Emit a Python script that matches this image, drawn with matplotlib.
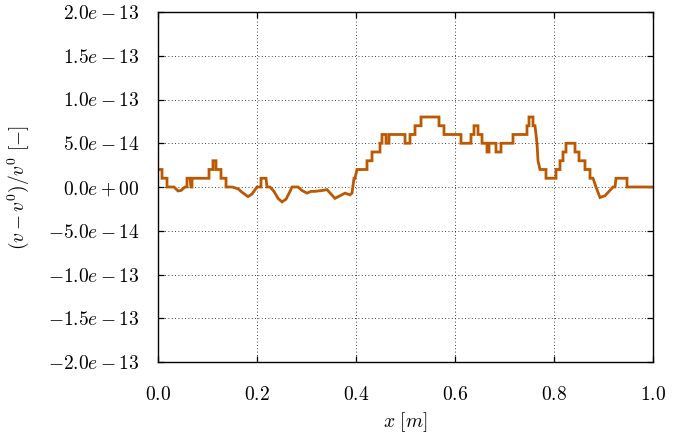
import matplotlib
matplotlib.use("Agg")
import matplotlib.pyplot as plt
import numpy as np

plt.rcParams['mathtext.fontset'] = 'cm'
plt.rcParams['font.family'] = ['cmr10', 'DejaVu Serif']
plt.rcParams['axes.unicode_minus'] = False

# curve vertices: x position (pixel-read) and deviation in units of 1e-14
x_px = [158, 162, 162, 167, 167, 174, 178, 181, 185, 187, 187, 190, 191, 192, 192,
        209, 209, 213, 213, 216, 216, 221, 221, 226, 226, 232, 235, 238, 242, 248,
        252, 257, 261, 261, 266, 267, 270, 274, 278, 282, 286, 290, 292, 298, 302,
        307, 311, 315, 322, 327, 331, 335, 340, 345, 350, 352, 354, 355, 357, 367,
        367, 372, 372, 380, 380, 382, 382, 386, 386, 389, 389, 405, 405, 410, 410,
        415, 415, 421, 421, 439, 439, 444, 444, 461, 461, 471, 471, 474, 474, 478,
        478, 482, 482, 487, 487, 489, 489, 496, 496, 501, 501, 513, 513, 527, 527,
        529, 529, 533, 533, 535, 537, 538, 540, 546, 546, 556, 556, 560, 560, 563,
        563, 566, 566, 575, 575, 579, 579, 585, 585, 590, 590, 593, 596, 600, 605,
        609, 613, 615, 616, 627, 627, 653]
dev = [2, 2, 1, 1, 0, 0, -0.45, -0.4, 0, 0, 1, 1, 0, 0, 1,
       1, 2, 2, 3, 3, 2, 2, 1, 1, 0, 0, -0.1, -0.2, -0.6, -1.1,
       -0.8, 0, 0, 1, 1, 0, 0, -0.5, -1.3, -1.7, -1.4, -0.5, 0, 0, -0.4,
       -0.7, -0.5, -0.5, -0.4, -0.3, -0.8, -1.3, -1.0, -0.7, -0.9, -0.7, 1, 1, 2, 2,
       3, 3, 4, 4, 5, 5, 6, 6, 5, 5, 6, 6, 5, 5, 6,
       6, 7, 7, 8, 8, 7, 7, 6, 6, 5, 5, 6, 6, 7, 7,
       6, 6, 5, 5, 4, 4, 5, 5, 4, 4, 5, 5, 6, 6, 7,
       7, 8, 8, 7, 7, 5, 3, 2, 2, 1, 1, 2, 2, 3, 3,
       4, 4, 5, 5, 4, 4, 3, 3, 2, 2, 1, 1, 0, -1.2, -1.0,
       -0.5, 0, 0, 1, 1, 0, 0]

x = (np.array(x_px, dtype=float) - 158.0) / 495.0
y = np.array(dev, dtype=float) * 1e-14

xticks = [0.0, 0.2, 0.4, 0.6, 0.8, 1.0]
xticklabels = ['0.0', '0.2', '0.4', '0.6', '0.8', '1.0']
yticks = [-2e-13, -1.5e-13, -1e-13, -5e-14, 0, 5e-14, 1e-13, 1.5e-13, 2e-13]
yticklabels = [r'$-2.0e-13$', r'$-1.5e-13$', r'$-1.0e-13$', r'$-5.0e-14$',
               r'$0.0e+00$', r'$5.0e-14$', r'$1.0e-13$', r'$1.5e-13$', r'$2.0e-13$']

fig = plt.figure(figsize=(6.84, 4.41), dpi=100)
ax = fig.add_axes([158/684, 1 - 362/441, 495/684, 350/441])
ax.plot(x, y, color='#bb5800', lw=2.0, solid_joinstyle='miter')
ax.set_xlim(0, 1)
ax.set_ylim(-2e-13, 2e-13)
ax.set_xticks(xticks)
ax.set_xticklabels([r'$%s$' % t for t in xticklabels])
ax.set_yticks(yticks)
ax.set_yticklabels(yticklabels)
ax.grid(True, color='black', linestyle=(0, (1, 3)), linewidth=0.6)
ax.tick_params(direction='in', top=True, right=True, length=4, width=0.9,
               labelsize=14)
ax.tick_params(axis='x', pad=17)
ax.tick_params(axis='y', pad=13)
for s in ax.spines.values():
    s.set_linewidth(1.0)
ax.set_xlabel(r'$x\ [m]$', fontsize=14, labelpad=5)
ax.set_ylabel(r'$(v - v^0)/v^0\ [-]$', fontsize=14, labelpad=12)
fig.savefig('out.png', dpi=100)
